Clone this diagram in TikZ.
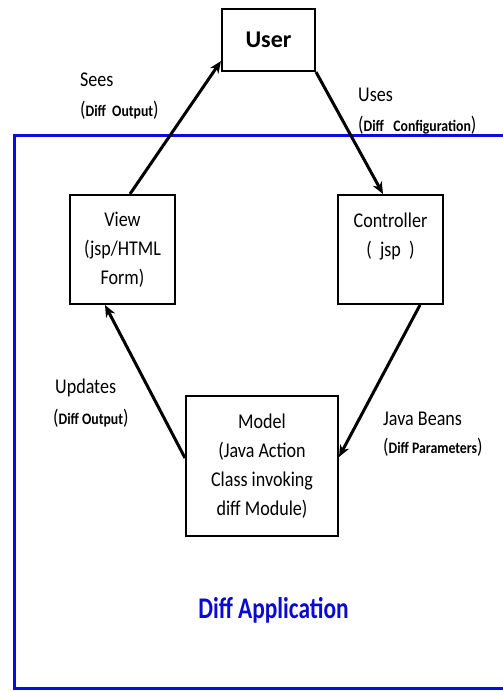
\documentclass[tikz,border=0pt]{standalone}
\usepackage{fontspec}
\setmainfont{Carlito}
\newfontfamily\nf[FakeStretch=0.86]{Carlito}
\newfontfamily\appf[FakeStretch=0.78]{Carlito}
\usetikzlibrary{arrows.meta}
\definecolor{blueline}{RGB}{10,10,230}
\definecolor{bluetext}{RGB}{10,10,210}
\newcommand\bd[1]{{\fontsize{16}{16}\selectfont\bfseries #1}}
\tikzset{
  box/.style={draw, line width=2pt, align=center, inner sep=0pt,
    font=\nf\fontsize{21}{29}\selectfont},
  arr/.style={draw, line width=3pt, -{Stealth[length=12pt,width=10pt]}},
  lab/.style={anchor=west, inner sep=0pt, font=\nf\fontsize{21}{21}\selectfont}
}
\begin{document}
\begin{tikzpicture}[x=1pt,y=-1pt]
\useasboundingbox (0,0) rectangle (503,691);
\fill[white] (0,0) rectangle (503,691);
% application frame
\draw[blueline, line width=3pt] (504,135) -- (14,135) -- (14,688.5) -- (504,688.5);
% boxes
\node[box, minimum width=93, minimum height=62, font=\fontsize{24}{24}\selectfont\bfseries] (user) at (268.5,40) {User};
\node[box, minimum width=105, minimum height=109] (view) at (122.5,249.5) {View\\(jsp/HTML\\Form)};
\node[box, minimum width=105, minimum height=109] (ctrl) at (390.5,249.5) {Controller\\(\ \ jsp\ \ )\\\mbox{}};
\node[box, minimum width=152, minimum height=140] (model) at (262,466) {Model\\(Java Action\\Class invoking\\diff Module)};
% connectors
\draw[arr] ([xshift=7.5pt]view.north) -- ([yshift=11pt]user.south west);
\draw[arr] (user.south east) -- ([xshift=-7.5pt]ctrl.north);
\draw[arr] ([xshift=29.5pt]ctrl.south) -- ([yshift=9pt]model.east);
\draw[arr] ([yshift=8pt]model.west) -- ([xshift=-17.5pt]view.south);
% labels
\node[lab] (sees) at (80,80) {Sees};
\node[lab] (seesd) at (80,110) {(\bd{Diff\ \ Output})};
\node[lab] (uses) at (358,95) {Uses};
\node[lab] (usesd) at (358,125) {(\bd{Diff\ \ \ Configuration})};
\node[lab] (upd) at (55,388) {Updates};
\node[lab] (updd) at (53,418) {(\bd{Diff Output})};
\node[lab] (jb) at (383,419) {Java Beans};
\node[lab] (jbd) at (383,447) {(\bd{Diff Parameters})};
\node[inner sep=0pt, text=bluetext, font=\appf\fontsize{30}{30}\selectfont\bfseries] (app) at (273.5,610) {Diff Application};
\end{tikzpicture}
\end{document}
